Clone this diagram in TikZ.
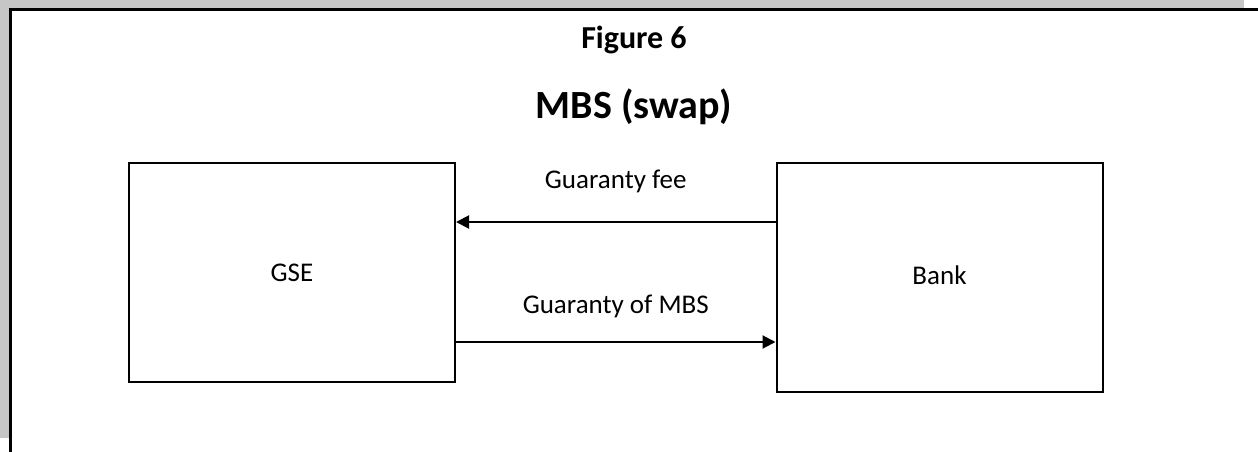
\documentclass[tikz,border=0pt]{standalone}
\usepackage{fontspec}
\setmainfont{Carlito}
\usetikzlibrary{arrows.meta,positioning}

\begin{document}
\begin{tikzpicture}[x=1pt,y=-1pt,>={Triangle[length=13pt,width=13pt]},node distance=647.5pt,
  box/.style={draw,line width=2pt,minimum width=326pt,inner sep=0pt,font=\fontsize{27}{32}\selectfont},
  flow/.style={->,line width=2pt},
  lbl/.style={font=\fontsize{27}{32}\selectfont}]

\useasboundingbox (0,0) rectangle (1258,452);
% shadow strips and frame
\fill[gray!45] (0,0) rectangle (1244,8.5);
\fill[gray!45] (0,0) rectangle (9.5,438);
\draw[line width=2.7pt] (1258,9.3) -- (10.3,9.3) -- (10.3,452);

\node[font=\bfseries\fontsize{32}{38}\selectfont] (fig)   at (634,40)  {Figure 6};
\node[font=\bfseries\fontsize{40}{46}\selectfont] (title) at (634,107) {MBS (swap)};

\node[box,minimum height=219pt]  (gse)  at (292,272.5) {GSE};
\node[box,minimum height=229pt]  (bank) [right of=gse,yshift=-5pt] {\raisebox{5pt}{Bank}};

\draw[flow] ([yshift=55.5pt]bank.west) -- node[lbl,above=25pt] (fee) {Guaranty fee} ([yshift=55.5pt]bank.west -| gse.east);
\draw[flow] ([yshift=-69.5pt]gse.east) -- node[lbl,above=20pt] (gty) {Guaranty of MBS} ([yshift=-69.5pt]gse.east -| bank.west);

\end{tikzpicture}
\end{document}
